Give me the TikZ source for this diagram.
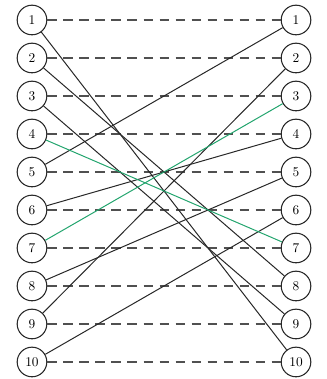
\documentclass[tikz,border=0pt]{standalone}
\usepackage{tikz}
\usetikzlibrary{positioning}
\definecolor{matchgreen}{RGB}{35,165,110}
\definecolor{linkdark}{RGB}{40,40,40}
\definecolor{dashgrey}{RGB}{80,80,80}
\tikzset{
  vertex/.style={
    draw=linkdark,
    circle,
    line width=0.8pt,
    minimum size=0.78cm,
    inner sep=0pt,
    fill=white,
    font=\normalsize
  },
  samelink/.style={dashgrey, line width=0.8pt, dash pattern=on 7pt off 5pt},
  crosslink/.style={linkdark, line width=0.75pt},
  greenlink/.style={matchgreen, line width=0.75pt}
}

\begin{document}
\begin{tikzpicture}[y=-1cm]
  \useasboundingbox (0,0) rectangle (8.605,9.974);

  \foreach \i in {1,...,10} {
    \node[vertex] (l\i) at (0.842,{0.526+(\i-1)}) {\i};
    \node[vertex] (r\i) at (7.79,{0.526+(\i-1)}) {\i};
  }

  \foreach \i in {1,...,10}
    \draw[samelink] (l\i) -- (r\i);

  \foreach \a/\b in {1/10,2/8,3/9,5/1,6/4,8/5,9/2,10/6}
    \draw[crosslink] (l\a) -- (r\b);

  \foreach \a/\b in {4/7,7/3}
    \draw[greenlink] (l\a) -- (r\b);
\end{tikzpicture}
\end{document}
